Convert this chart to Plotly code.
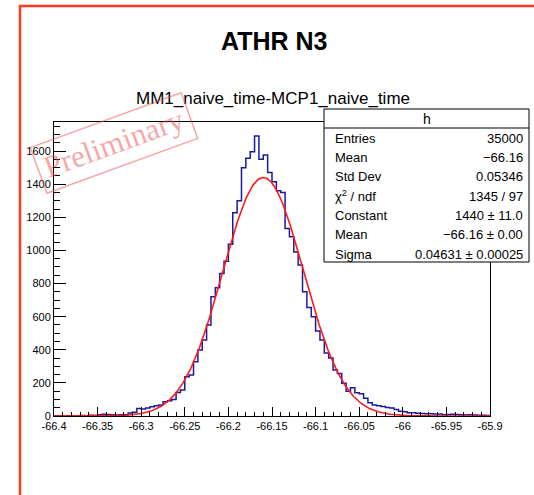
import numpy as np
import plotly.graph_objects as go

W, H = 534, 495

# ---- data ----
x_min, x_max = -66.4, -65.9
counts = [0, 1, 0, 1, 2, 1, 3, 2, 4, 3,
          8, 10, 9, 7, 6, 8, 7, 18, 22, 46,
          42, 48, 56, 62, 66, 86, 92, 100, 142, 157,
          237, 248, 328, 399, 459, 550, 720, 775, 860, 935,
          1037, 1228, 1300, 1500, 1556, 1596, 1691, 1550, 1576, 1471,
          1415, 1360, 1350, 1133, 1083, 990, 912, 750, 655, 600,
          514, 459, 380, 350, 278, 256, 198, 149, 171, 140,
          135, 107, 80, 66, 62, 58, 52, 48, 40, 28,
          25, 20, 19, 16, 15, 14, 13, 12, 12, 8,
          9, 10, 9, 7, 6, 8, 6, 5, 4, 3]

fit_constant = 1440.0
fit_mean = -66.16
fit_sigma = 0.04631

x_tickvals = [-66.4, -66.35, -66.3, -66.25, -66.2, -66.15, -66.1, -66.05, -66.0, -65.95, -65.9]
x_ticktext = ["-66.4", "-66.35", "-66.3", "-66.25", "-66.2", "-66.15", "-66.1", "-66.05", "-66", "-65.95", "-65.9"]
y_tickvals = [0, 200, 400, 600, 800, 1000, 1200, 1400, 1600]
y_ticktext = ["0", "200", "400", "600", "800", "1000", "1200", "1400", "1600"]
y_max = 1.05 * max(counts)

title_text = "ATHR N3"
hist_title = "MM1_naive_time-MCP1_naive_time"
stats_name = "h"
stats_labels = ["Entries", "Mean", "Std Dev", "χ<sup>2</sup> / ndf", "Constant", "Mean", "Sigma"]
stats_values = ["35000", "\u221266.16", "0.05346", "1345 / 97", "1440 \u00b1 11.0",
                "\u221266.16 \u00b1 0.00", "0.04631 \u00b1 0.00025"]
stamp_text = "Preliminary"

# ---- helpers (pixel -> paper) ----
def px(x):
    return x / W

def py(y):
    return 1 - y / H

FONT = "Liberation Sans, Arial, sans-serif"

edges = np.linspace(x_min, x_max, len(counts) + 1)
step_y = list(counts) + [counts[-1]]

xf = np.linspace(x_min, x_max, 500)
yf = fit_constant * np.exp(-0.5 * ((xf - fit_mean) / fit_sigma) ** 2)

fig = go.Figure()
fig.add_trace(go.Scatter(x=edges, y=step_y, mode="lines",
                         line=dict(shape="hv", color="#1a1a9e", width=1.5),
                         hoverinfo="skip"))
fig.add_trace(go.Scatter(x=xf, y=yf, mode="lines",
                         line=dict(color="#ff1a1a", width=1.6),
                         hoverinfo="skip"))

fig.update_layout(
    width=W, height=H,
    margin=dict(l=0, r=0, t=0, b=0, pad=0, autoexpand=False),
    paper_bgcolor="white", plot_bgcolor="white",
    showlegend=False,
    xaxis=dict(domain=[px(54), px(490)], range=[x_min, x_max], automargin=False,
               showline=True, linecolor="black", linewidth=1, mirror=True,
               ticks="inside", ticklen=9, tickcolor="black", tickwidth=1,
               tickmode="array", tickvals=x_tickvals, ticktext=x_ticktext,
               tickfont=dict(family=FONT, size=11, color="black"),
               showgrid=False, zeroline=False,
               minor=dict(ticks="inside", ticklen=4.5, tickcolor="black",
                          tickmode="linear", tick0=x_min, dtick=0.01, showgrid=False)),
    yaxis=dict(domain=[py(416), py(122)], range=[0, y_max], automargin=False,
               showline=True, linecolor="black", linewidth=1, mirror=True,
               ticks="inside", ticklen=12, tickcolor="black", tickwidth=1,
               tickmode="array", tickvals=y_tickvals, ticktext=y_ticktext,
               tickfont=dict(family=FONT, size=11, color="black"),
               showgrid=False, zeroline=False,
               minor=dict(ticks="inside", ticklen=6, tickcolor="black",
                          tickmode="linear", tick0=0, dtick=50, showgrid=False)),
)

shapes = []
# outer red frame
shapes.append(dict(type="rect", xref="paper", yref="paper",
                   x0=px(20), x1=px(W + 10), y0=py(H + 10), y1=py(6),
                   line=dict(color="#ff3a22", width=2.5), fillcolor="rgba(0,0,0,0)"))
# stats box
box_l, box_r, box_t, box_b = 324, 529, 109, 262
shapes.append(dict(type="rect", xref="paper", yref="paper",
                   x0=px(box_l), x1=px(box_r), y0=py(box_b), y1=py(box_t),
                   line=dict(color="black", width=1), fillcolor="white", layer="above"))
shapes.append(dict(type="line", xref="paper", yref="paper",
                   x0=px(box_l), x1=px(box_r), y0=py(128), y1=py(128),
                   line=dict(color="black", width=1), layer="above"))
fig.update_layout(shapes=shapes)

ann = []
ann.append(dict(text="<b>%s</b>" % title_text, x=px(274), y=py(41), xref="paper", yref="paper",
                showarrow=False, xanchor="center", yanchor="middle",
                font=dict(family=FONT, size=25, color="black")))
ann.append(dict(text=hist_title, x=px(273), y=py(98.5), xref="paper", yref="paper",
                showarrow=False, xanchor="center", yanchor="middle",
                font=dict(family=FONT, size=17, color="black")))
ann.append(dict(text=stats_name, x=px((box_l + box_r) / 2), y=py(119), xref="paper", yref="paper",
                showarrow=False, xanchor="center", yanchor="middle",
                font=dict(family=FONT, size=14, color="black")))
row0, row_dy = 138.3, 19.3
for i, (lab, val) in enumerate(zip(stats_labels, stats_values)):
    yy = py(row0 + i * row_dy)
    ann.append(dict(text=lab, x=px(333), y=yy, xref="paper", yref="paper",
                    showarrow=False, xanchor="left", yanchor="middle",
                    font=dict(family=FONT, size=13, color="black")))
    ann.append(dict(text=val, x=px(525), y=yy, xref="paper", yref="paper",
                    showarrow=False, xanchor="right", yanchor="middle",
                    font=dict(family=FONT, size=13, color="black")))
# Preliminary stamp
ann.append(dict(text=stamp_text, x=px(114), y=py(143), xref="paper", yref="paper",
                showarrow=False, xanchor="center", yanchor="middle", textangle=-20,
                font=dict(family="Liberation Serif, Times New Roman, serif", size=31,
                          color="rgba(235,80,80,0.5)"),
                bordercolor="rgba(235,80,80,0.5)", borderwidth=1.5, borderpad=6))
fig.update_layout(annotations=ann)

fig.write_html("out.html")
